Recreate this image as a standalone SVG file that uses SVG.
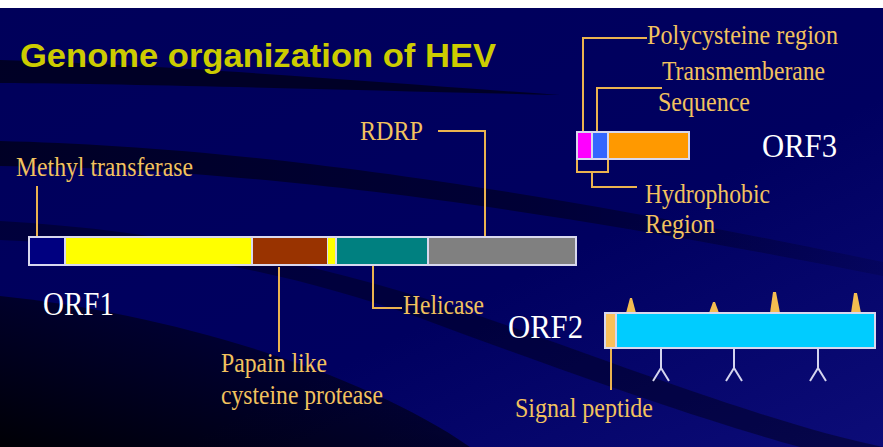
<svg xmlns="http://www.w3.org/2000/svg" width="883" height="447" viewBox="0 0 883 447">
  <defs>
    <linearGradient id="bgGrad" x1="0" y1="0" x2="1" y2="1">
      <stop offset="0" stop-color="#00005a"/>
      <stop offset="0.6" stop-color="#000060"/>
      <stop offset="1" stop-color="#0c0c78"/>
    </linearGradient>
    <linearGradient id="cornerGrad" x1="0" y1="1" x2="1" y2="0">
      <stop offset="0" stop-color="#000000" stop-opacity="0.95"/>
      <stop offset="0.7" stop-color="#000010" stop-opacity="0.5"/>
      <stop offset="1" stop-color="#000020" stop-opacity="0.2"/>
    </linearGradient>
    <linearGradient id="fadeRight" x1="0" y1="0" x2="1" y2="0">
      <stop offset="0" stop-color="#000014" stop-opacity="0.75"/>
      <stop offset="0.6" stop-color="#000014" stop-opacity="0.55"/>
      <stop offset="1" stop-color="#000014" stop-opacity="0.15"/>
    </linearGradient>
    <style>
      .lbl { font-family: "Liberation Serif", "Times New Roman", serif; font-size: 28px; fill: #f2c25e; }
      .orf { font-family: "Liberation Serif", "Times New Roman", serif; font-size: 34px; fill: #ffffff; }
      .title { font-family: "Liberation Sans", Arial, sans-serif; font-size: 33px; font-weight: bold; fill: #cccc00; }
      .lead { fill: none; stroke: #ebb34f; stroke-width: 2; }
      .frame { fill: #d8d8ee; }
      .stalk { fill: none; stroke: #d4d4ee; stroke-width: 2; }
      .spike { fill: #f4bc50; }
    </style>
  </defs>

  <!-- backdrop -->
  <rect x="0" y="0" width="883" height="447" fill="#ffffff"/>
  <rect x="0" y="8" width="883" height="439" fill="url(#bgGrad)"/>
  <g id="swooshes" fill="#000014">
    <path d="M0,60 C150,64 350,80 560,95 C350,90 150,84 0,83 Z" opacity="0.75"/>
    <path d="M0,141 C200,146 450,172 883,262 L883,276 C450,190 200,168 0,166 Z" fill="url(#fadeRight)"/>
    <path d="M0,221 C160,230 330,262 520,330 C700,395 800,430 883,447 L800,447 C700,420 560,370 420,318 C280,268 140,245 0,240 Z" opacity="0.45"/>
    <path d="M0,296 C160,312 360,370 470,447 L0,447 Z" fill="url(#cornerGrad)"/>
  </g>

  <text id="title" class="title" x="20" y="67" textLength="476" lengthAdjust="spacingAndGlyphs">Genome organization of HEV</text>

  <!-- ORF1 polyprotein -->
  <g id="orf1">
    <rect class="frame" x="28" y="236" width="549" height="30"/>
    <rect x="30" y="238" width="34" height="26" fill="#000080"/>
    <rect x="66" y="238" width="185" height="26" fill="#ffff00"/>
    <rect x="253" y="238" width="74" height="26" fill="#993300"/>
    <rect x="328" y="238" width="7" height="26" fill="#ffff00"/>
    <rect x="337" y="238" width="90" height="26" fill="#008080"/>
    <rect x="429" y="238" width="146" height="26" fill="#808080"/>
    <text class="orf" x="43" y="315" textLength="71" lengthAdjust="spacingAndGlyphs">ORF1</text>
  </g>

  <!-- ORF3 -->
  <g id="orf3">
    <rect class="frame" x="576" y="131" width="114" height="29"/>
    <rect x="578" y="133" width="13" height="25" fill="#ff00ff"/>
    <rect x="593" y="133" width="14" height="25" fill="#3366ff"/>
    <rect x="609" y="133" width="79" height="25" fill="#ff9900"/>
    <text class="orf" x="762" y="157" textLength="75" lengthAdjust="spacingAndGlyphs">ORF3</text>
  </g>

  <!-- ORF2 capsid -->
  <g id="orf2">
    <path class="spike" d="M626,313 L630,298 L632,298 L636,313 Z"/>
    <path class="spike" d="M709,313 L713,302 L715,302 L719,313 Z"/>
    <path class="spike" d="M770,313 L773,292 L776,292 L780,313 Z"/>
    <path class="spike" d="M851,313 L854,293 L857,293 L861,313 Z"/>
    <rect class="frame" x="604" y="312" width="272" height="37"/>
    <rect x="606" y="314" width="9" height="33" fill="#f8c05a"/>
    <rect x="617" y="314" width="257" height="33" fill="#00ccff"/>
    <path class="stalk" d="M661,349 V368 L653,381 M661,368 L669,381"/>
    <path class="stalk" d="M734,349 V368 L726,381 M734,368 L742,381"/>
    <path class="stalk" d="M818,349 V368 L810,381 M818,368 L826,381"/>
    <text class="orf" x="508" y="338" textLength="75" lengthAdjust="spacingAndGlyphs">ORF2</text>
  </g>

  <!-- leader lines -->
  <g id="connectors">
    <path class="lead" d="M37,186 V236"/>
    <path class="lead" d="M438,131 H485 V236"/>
    <path class="lead" d="M373,266 V308 H402"/>
    <path class="lead" d="M279,267 V352"/>
    <path class="lead" d="M583,131 V38 H647"/>
    <path class="lead" d="M597,131 V88 H662"/>
    <path class="lead" d="M577,160 V172 H608 V160 M592,172 V187 H637"/>
    <path class="lead" d="M611,349 V390"/>
  </g>

  <!-- domain labels -->
  <g id="labels">
    <text id="lbl-methyl" class="lbl" x="16" y="176" textLength="177" lengthAdjust="spacingAndGlyphs">Methyl transferase</text>
    <text id="lbl-rdrp" class="lbl" x="360" y="140" textLength="63" lengthAdjust="spacingAndGlyphs">RDRP</text>
    <text id="lbl-helicase" class="lbl" x="403" y="314" textLength="81" lengthAdjust="spacingAndGlyphs">Helicase</text>
    <text id="lbl-papain" class="lbl" x="221" y="372" textLength="106" lengthAdjust="spacingAndGlyphs">Papain like</text>
    <text id="lbl-protease" class="lbl" x="221" y="404" textLength="162" lengthAdjust="spacingAndGlyphs">cysteine protease</text>
    <text id="lbl-polycys" class="lbl" x="647" y="44" textLength="191" lengthAdjust="spacingAndGlyphs">Polycysteine region</text>
    <text id="lbl-tm" class="lbl" x="662" y="80" textLength="163" lengthAdjust="spacingAndGlyphs">Transmemberane</text>
    <text id="lbl-seq" class="lbl" x="658" y="111" textLength="92" lengthAdjust="spacingAndGlyphs">Sequence</text>
    <text id="lbl-hydro" class="lbl" x="645" y="203" textLength="125" lengthAdjust="spacingAndGlyphs">Hydrophobic</text>
    <text id="lbl-region" class="lbl" x="645" y="233" textLength="70" lengthAdjust="spacingAndGlyphs">Region</text>
    <text id="lbl-signal" class="lbl" x="515" y="417" textLength="138" lengthAdjust="spacingAndGlyphs">Signal peptide</text>
  </g>
</svg>
